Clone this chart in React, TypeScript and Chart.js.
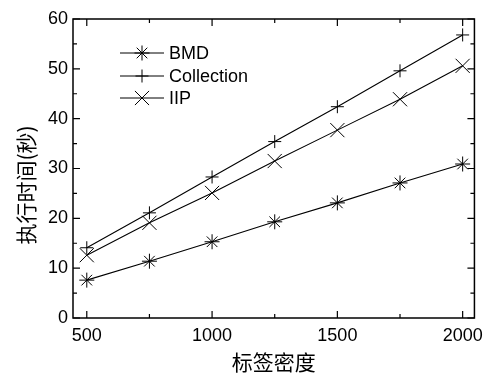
import React, { useEffect, useRef } from "react";
import { Chart, registerables } from "chart.js";
import { drawPoint } from "chart.js/helpers";

Chart.register(...registerables);

const densities = [500, 750, 1000, 1250, 1500, 1750, 2000];
const bmd = [7.6, 11.4, 15.3, 19.3, 23.1, 27.1, 30.9];
const collection = [14.1, 21.1, 28.3, 35.4, 42.4, 49.6, 56.8];
const iip = [12.6, 19.1, 25.1, 31.5, 37.7, 43.9, 50.6];
const xTickLabels = [500, 1000, 1500, 2000];
const xMinorTicks = [750, 1250, 1750];
const yTickLabels = [0, 10, 20, 30, 40, 50, 60];
const yMinorTicks = [5, 15, 25, 35, 45, 55];
const seriesNames = ["BMD", "Collection", "IIP"];
const xTitle = "标签密度";
const yTitle = "执行时间(秒)";

const FONT = "'Liberation Sans', Arial, sans-serif";
const CJK = "'Noto Sans CJK SC', sans-serif";

const framePlugin = {
  id: "frame",
  afterDraw(chart: any) {
    const ctx = chart.ctx;
    const { left, right, top, bottom } = chart.chartArea;
    const xs = chart.scales.x;
    const ys = chart.scales.y;
    ctx.save();
    ctx.strokeStyle = "#000";
    ctx.lineWidth = 1.5;
    ctx.strokeRect(left, top, right - left, bottom - top);
    ctx.lineWidth = 1.2;
    ctx.beginPath();
    const xt = (v: number, len: number) => {
      const p = xs.getPixelForValue(v);
      ctx.moveTo(p, bottom);
      ctx.lineTo(p, bottom - len);
      ctx.moveTo(p, top);
      ctx.lineTo(p, top + len);
    };
    const yt = (v: number, len: number) => {
      const p = ys.getPixelForValue(v);
      ctx.moveTo(left, p);
      ctx.lineTo(left + len, p);
      ctx.moveTo(right, p);
      ctx.lineTo(right - len, p);
    };
    xTickLabels.forEach((v) => xt(v, 7));
    xMinorTicks.forEach((v) => xt(v, 4));
    yTickLabels.forEach((v) => yt(v, 7));
    yMinorTicks.forEach((v) => yt(v, 4));
    ctx.stroke();

    // titles
    ctx.fillStyle = "#000";
    ctx.font = `21px ${CJK}`;
    ctx.textAlign = "center";
    ctx.textBaseline = "middle";
    ctx.fillText(xTitle, (left + right) / 2, 362);
    ctx.save();
    ctx.translate(26, 185);
    ctx.rotate(-Math.PI / 2);
    ctx.fillText(yTitle, 0, 0);
    ctx.restore();

    // legend
    const rows = [53, 76, 98];
    chart.data.datasets.forEach((ds: any, i: number) => {
      const y = rows[i];
      ctx.strokeStyle = "#000";
      ctx.lineWidth = 1;
      ctx.beginPath();
      ctx.moveTo(120, y);
      ctx.lineTo(164, y);
      ctx.stroke();
      drawPoint(ctx, { pointStyle: ds.pointStyle, radius: ds.pointRadius, borderWidth: 1, rotation: 0 }, 142, y);
      ctx.fillStyle = "#000";
      ctx.font = `18px ${FONT}`;
      ctx.textAlign = "left";
      ctx.textBaseline = "middle";
      ctx.fillText(ds.label, 169, y + 1);
    });
    ctx.restore();
  },
};

export default function App() {
  const ref = useRef<HTMLCanvasElement>(null);
  useEffect(() => {
    if (!ref.current) return;
    const mk = (label: string, data: number[], style: string, r: number) => ({
      label,
      data: densities.map((x, i) => ({ x, y: data[i] })),
      borderColor: "#000",
      backgroundColor: "#000",
      borderWidth: 1.1,
      pointStyle: style,
      pointRadius: r,
      pointBorderColor: "#000",
      pointBorderWidth: 1,
      tension: 0,
    });
    const chart = new Chart(ref.current, {
      type: "line",
      data: {
        datasets: [
          mk(seriesNames[0], bmd, "star", 7.5),
          mk(seriesNames[1], collection, "cross", 6.5),
          mk(seriesNames[2], iip, "crossRot", 10),
        ],
      },
      options: {
        animation: false,
        responsive: false,
        maintainAspectRatio: false,
        layout: { padding: { top: 19, right: 11, left: 0, bottom: 0 } },
        plugins: { legend: { display: false }, tooltip: { enabled: false } },
        scales: {
          x: {
            type: "linear",
            min: 445,
            max: 2047,
            afterBuildTicks: (s: any) => {
              s.ticks = xTickLabels.map((v) => ({ value: v }));
            },
            afterFit: (s: any) => {
              s.height = 60;
            },
            grid: { display: false, drawTicks: false },
            border: { display: false },
            ticks: {
              color: "#000",
              font: { family: FONT, size: 18 },
              padding: 7,
              maxRotation: 0,
              autoSkip: false,
              callback: (v: any) => String(v),
            },
          },
          y: {
            min: 0,
            max: 60,
            afterBuildTicks: (s: any) => {
              s.ticks = yTickLabels.map((v) => ({ value: v }));
            },
            afterFit: (s: any) => {
              s.width = 73;
            },
            grid: { display: false, drawTicks: false },
            border: { display: false },
            ticks: { color: "#000", font: { family: FONT, size: 18 }, padding: 5, callback: (v: any) => String(v) },
          },
        },
      } as any,
      plugins: [framePlugin],
    });
    return () => chart.destroy();
  }, []);
  return (
    <div style={{ position: "fixed", left: 0, top: 0, width: 490, height: 378, background: "#fff" }}>
      <canvas ref={ref} width={490} height={378} style={{ width: 490, height: 378 }} />
    </div>
  );
}
